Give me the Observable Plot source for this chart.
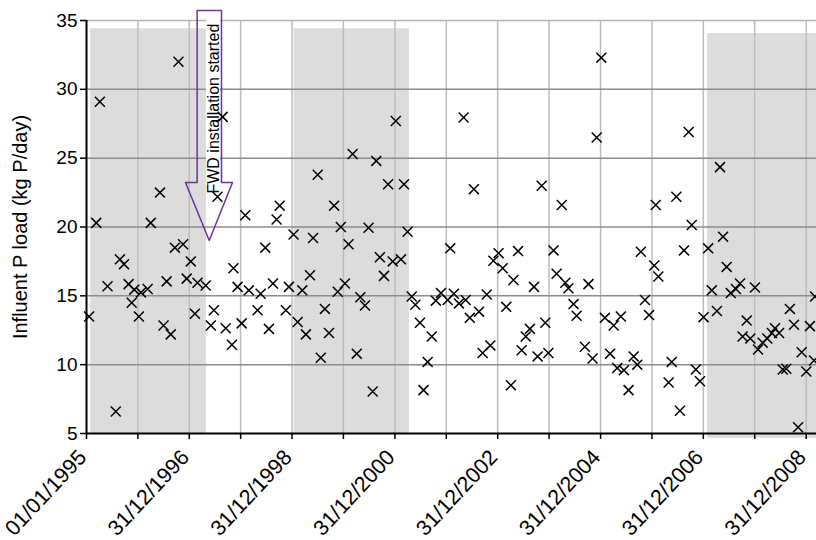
<!DOCTYPE html>
<html>
<head>
<meta charset="utf-8">
<script src="https://cdn.jsdelivr.net/npm/d3@7"></script>
<script src="https://cdn.jsdelivr.net/npm/@observablehq/plot@0.6"></script>
<style>
  html, body { margin: 0; padding: 0; background: #fff; overflow: hidden; }
  #chart svg { display: block; }
</style>
</head>
<body>
<div id="chart"></div>
<script>
// Sample dates as decimal years
const sampleYears = [
  1995.05,1995.19,1995.26,1995.41,1995.57,1995.65,1995.73,1995.82,1995.88,1995.93,
  1996.02,1996.06,1996.19,1996.25,1996.43,1996.50,1996.56,1996.64,1996.72,1996.79,
  1996.88,1996.95,1997.03,1997.11,1997.16,1997.32,1997.42,1997.48,1997.55,1997.65,
  1997.71,1997.83,1997.86,1997.94,1998.02,1998.09,1998.16,1998.33,1998.39,1998.48,
  1998.55,1998.63,1998.70,1998.76,1998.88,1998.94,1999.03,1999.11,1999.20,1999.27,
  1999.35,1999.41,1999.50,1999.56,1999.64,1999.72,1999.82,1999.89,1999.95,2000.03,
  2000.10,2000.18,2000.26,2000.33,2000.42,2000.49,2000.57,2000.64,2000.71,2000.79,
  2000.87,2000.96,2001.02,2001.12,2001.18,2001.25,2001.33,2001.40,2001.49,2001.56,
  2001.64,2001.72,2001.80,2001.90,2002.03,2002.08,2002.15,2002.25,2002.34,2002.38,
  2002.46,2002.54,2002.64,2002.71,2002.79,2002.86,2002.92,2003.02,2003.10,2003.17,
  2003.26,2003.31,2003.40,2003.47,2003.55,2003.63,2003.71,2003.78,2003.86,2003.93,
  2003.99,2004.09,2004.15,2004.25,2004.32,2004.38,2004.48,2004.54,2004.70,2004.77,
  2004.85,2004.93,2005.02,2005.09,2005.19,2005.26,2005.33,2005.40,2005.46,2005.55,
  2005.65,2005.72,2005.79,2005.87,2005.95,2006.05,2006.08,2006.13,2006.33,2006.39,
  2006.48,2006.55,2006.63,2006.72,2006.78,2006.86,2006.94,2007.01,2007.10,2007.17,
  2007.27,2007.33,2007.39,2007.46,2007.54,2007.64,2007.72,2007.77,2007.85,2007.92,
  2008.01,2008.07,2008.16,2008.25,2008.34,2008.40,2008.48,2008.55,2008.62,2008.69,
  2008.77,2008.85,2008.92,2009.01,2009.08,2009.16,2009.18
];
// Influent P load (kg P/day)
const loads = [
  13.5,20.3,29.1,15.7,6.6,17.65,17.3,15.85,14.5,15.45,
  13.5,15.25,15.5,20.3,22.5,12.85,16.05,12.2,18.5,32.0,
  18.75,16.25,17.5,13.7,15.95,15.75,12.85,13.95,22.2,28.0,
  12.65,11.45,17.0,15.65,13.0,20.85,15.4,13.95,15.15,18.5,
  12.6,15.9,20.55,21.55,13.95,15.65,19.45,13.1,15.4,12.2,
  16.5,19.2,23.8,10.5,14.05,12.3,21.55,15.3,20.0,15.9,
  18.75,25.3,10.8,14.9,14.3,19.95,8.05,24.8,17.8,16.45,
  23.1,17.5,27.7,17.65,23.1,19.65,14.95,14.35,13.05,8.15,
  10.2,12.05,14.65,15.2,14.7,18.45,15.15,14.45,27.95,14.7,
  13.4,22.75,13.85,10.85,15.1,11.4,17.55,18.1,17.0,14.2,
  8.5,16.15,18.25,11.05,12.05,12.6,15.65,10.6,23.0,13.05,
  10.85,18.3,16.6,21.6,15.95,15.55,14.4,13.55,11.3,15.85,
  10.45,26.5,32.3,13.4,10.8,12.85,9.75,13.5,9.6,8.15,
  10.6,10.0,18.2,14.7,13.6,17.2,21.6,16.4,8.7,10.2,
  22.2,6.65,18.3,26.9,20.15,9.65,8.8,13.45,18.45,15.4,
  13.9,24.35,19.3,17.1,15.2,15.5,15.9,12.05,13.2,11.9,
  15.6,11.1,11.6,11.9,12.3,12.65,12.3,9.65,9.7,14.05,
  12.9,5.45,10.9,9.5,12.8,10.3,14.95
];

// Shaded periods
const periodStarts = ["1995-01-31", "1999-01-15", "2007-01-29"];
const periodEnds   = ["1997-05-02", "2001-04-13", "2009-03-14"];
const periodTops   = [34.4, 34.4, 34.05];
const periodBottoms = [5, 5, 4.65];

// Axes
const xStart = "1995-01-01";
const xEnd = "2009-03-14";
const yTicks = [5, 10, 15, 20, 25, 30, 35];
const gridValues = [10, 15, 20, 25, 30];
const labelTicks = ["1995-01-01","1996-12-31","1998-12-31","2000-12-31","2002-12-31","2004-12-31","2006-12-31","2008-12-31"];
const minorTicks = ["1996-01-01","1997-12-31","1999-12-31","2001-12-31","2003-12-31","2005-12-31","2007-12-31"];
const yTitle = "Influent P load (kg P/day)";

// Annotation arrow (block arrow outline, in data space)
const arrowDates  = ["1997-02-25","1997-08-17","1997-08-17","1997-11-03","1997-05-22","1996-12-04","1997-02-25","1997-02-25"];
const arrowValues = [35.72, 35.72, 23.23, 23.23, 19.02, 23.23, 23.23, 35.72];
const noteText = "FWD installation started";
const noteDate = "1997-06-21";
const noteValue = 28.6;
const noteBoxDates = ["1997-05-02", "1997-08-10"];
const noteBoxValues = [22.14, 35.14];

// ---- build tables ----
const parse = s => new Date(s);
const DAY = 86400000;
const yearToDate = yr => new Date(Date.UTC(1995, 0, 1) + (yr - 1995) * 365 * DAY);
const points = sampleYears.map((yr, i) => ({date: yearToDate(yr), value: loads[i]}));
const periods = periodStarts.map((s, i) => ({x1: parse(s), x2: parse(periodEnds[i]), y1: periodBottoms[i], y2: periodTops[i]}));
const arrow = arrowDates.map((d, i) => ({date: parse(d), value: arrowValues[i]}));
const allTicks = [...labelTicks, ...minorTicks].map(parse);
const fmt = d3.utcFormat("%d/%m/%Y");
const font = "Arial, 'Liberation Sans', sans-serif";

const chart = Plot.plot({
  width: 816,
  height: 540,
  marginLeft: 86,
  marginRight: 0,
  marginTop: 20,
  marginBottom: 107,
  style: {fontFamily: font, color: "#000", background: "#fff", overflow: "visible"},
  x: {type: "utc", domain: [parse(xStart), parse(xEnd)], axis: null},
  y: {domain: [5, 35], axis: null},
  marks: [
    Plot.rect(periods, {x1: "x1", x2: "x2", y1: "y1", y2: "y2", fill: "#dcdcdc"}),
    Plot.ruleX(allTicks.filter(d => +d !== +parse(xStart)), {y1: 5, y2: 35, stroke: "#bdbdbd", strokeWidth: 1.5}),
    Plot.ruleY(gridValues, {stroke: "#8c8c8c", strokeWidth: 1.5}),
    Plot.ruleY([35], {stroke: "#b4b4b4", strokeWidth: 1.5}),
    Plot.rect([0], {x1: () => parse(noteBoxDates[0]), x2: () => parse(noteBoxDates[1]), y1: () => noteBoxValues[0], y2: () => noteBoxValues[1], fill: "white"}),
    Plot.line(arrow, {x: "date", y: "value", stroke: "#7030a0", strokeWidth: 1.5, curve: "linear"}),
    Plot.text([noteText], {x: () => parse(noteDate), y: () => noteValue, text: d => d, rotate: -90, fontSize: 16, fill: "#000"}),
    Plot.dot(points, {x: "date", y: "value", symbol: "times", r: 4.6, stroke: "#000", strokeWidth: 1.5}),
    Plot.ruleX([parse(xStart)], {y1: 5, y2: 35, stroke: "#000", strokeWidth: 2}),
    Plot.ruleY([5], {stroke: "#000", strokeWidth: 2}),
    Plot.axisY({ticks: yTicks, tickSize: 6, tickPadding: 3, fontSize: 19, label: null, stroke: "#000", strokeWidth: 1.5}),
    Plot.axisX({ticks: allTicks, tickSize: 6, tickFormat: () => "", label: null, stroke: "#000", strokeWidth: 1.5}),
    Plot.text(labelTicks.map(parse), {x: d => d, y: () => 5, text: d => fmt(d), rotate: -47, textAnchor: "end", lineAnchor: "middle", dx: -4, dy: 20, fontSize: 21.5, fill: "#000"}),
    Plot.text([yTitle], {frameAnchor: "left", text: d => d, rotate: -90, textAnchor: "middle", dx: -66, fontSize: 20, fill: "#000"})
  ]
});
document.getElementById("chart").appendChild(chart);
</script>
</body>
</html>
